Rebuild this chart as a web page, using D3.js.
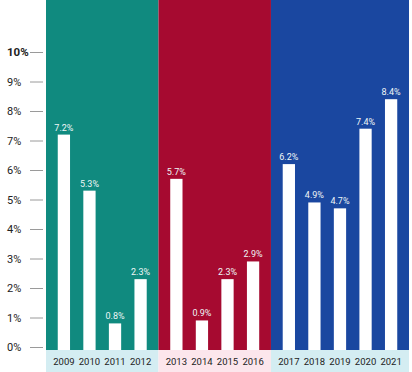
<!DOCTYPE html>
<html>
<head>
<meta charset="utf-8">
<script src="https://cdn.jsdelivr.net/npm/d3@7"></script>
<style>
  html, body { margin: 0; padding: 0; background: #fff; }
  svg { display: block; font-family: Roboto, "Open Sans", sans-serif; }
</style>
</head>
<body>
<div id="chart"></div>
<script>
// periods (one coloured panel each)
const periods = ["p1", "p2", "p3"];
const periodYears = [
  ["2009", "2010", "2011", "2012"],
  ["2013", "2014", "2015", "2016"],
  ["2017", "2018", "2019", "2020", "2021"]
];
const periodValues = [
  [7.2, 5.3, 0.8, 2.3],
  [5.7, 0.9, 2.3, 2.9],
  [6.2, 4.9, 4.7, 7.4, 8.4]
];
const panelColors = ["#108a7f", "#a60a30", "#1a47a0"];
const stripColors = ["#d4edf2", "#fce6ec", "#d4edf2"];
const yTicks = [0, 1, 2, 3, 4, 5, 6, 7, 8, 9, 10];

const width = 412, height = 372;
const plot = {left: 46, right: 409, top: 0, bottom: 350, stripBottom: 372};

const svg = d3.select("#chart").append("svg")
  .attr("width", width)
  .attr("height", height);

const y = d3.scaleLinear().domain([0, 10]).range([347, 52]);

// panel widths grow with the number of bars (a bit of extra room on each side)
const barShare = 0.48;
const units = periodYears.map(a => a.length + 0.4);
const total = d3.sum(units);
const xu = d3.scaleLinear().domain([0, total]).range([plot.left, plot.right]);

let acc = 0;
periods.forEach((p, i) => {
  const u0 = acc, u1 = acc + units[i];
  acc = u1;
  const x0 = xu(u0), x1 = xu(u1);

  const g = svg.append("g").attr("class", "panel " + p);

  g.append("rect")
    .attr("x", x0).attr("y", plot.top)
    .attr("width", x1 - x0).attr("height", plot.bottom - plot.top)
    .attr("fill", panelColors[i]);

  g.append("rect")
    .attr("x", x0).attr("y", plot.bottom)
    .attr("width", x1 - x0).attr("height", plot.stripBottom - plot.bottom)
    .attr("fill", stripColors[i]);

  const x = d3.scaleBand()
    .domain(periodYears[i])
    .range([x0, x1])
    .paddingInner(1 - barShare)
    .paddingOuter(0.46);

  const data = periodYears[i].map((yr, k) => ({year: yr, value: periodValues[i][k]}));

  g.selectAll("rect.bar")
    .data(data)
    .join("rect")
    .attr("class", "bar")
    .attr("x", d => x(d.year))
    .attr("y", d => y(d.value))
    .attr("width", x.bandwidth())
    .attr("height", d => plot.bottom - y(d.value))
    .attr("fill", "#fff");

  g.selectAll("text.val")
    .data(data)
    .join("text")
    .attr("class", "val")
    .attr("x", d => x(d.year) + x.bandwidth() / 2)
    .attr("y", d => y(d.value) - 4)
    .attr("text-anchor", "middle")
    .attr("font-size", 9)
    .attr("fill", "#eef6f6")
    .text(d => d.value.toFixed(1) + "%");

  g.selectAll("text.yr")
    .data(data)
    .join("text")
    .attr("class", "yr")
    .attr("x", d => x(d.year) + x.bandwidth() / 2)
    .attr("y", 365)
    .attr("text-anchor", "middle")
    .attr("font-size", 9.5)
    .attr("fill", "#222")
    .text(d => d.year);
});

// y axis
const yAxis = svg.append("g")
  .attr("transform", "translate(43,0)")
  .call(d3.axisLeft(y).tickValues(yTicks).tickSize(13).tickFormat(d => d + "%"));

yAxis.select(".domain").remove();
yAxis.selectAll(".tick line").attr("stroke", "#9a9a9a").attr("stroke-width", 1);
yAxis.selectAll(".tick text")
  .attr("x", -36)
  .attr("text-anchor", "start")
  .attr("font-family", "Roboto, sans-serif")
  .attr("font-size", 11)
  .attr("fill", "#222");
yAxis.selectAll(".tick")
  .filter(d => d === 10)
  .select("text")
  .attr("font-weight", "bold")
  .attr("font-size", 11.5);
</script>
</body>
</html>
